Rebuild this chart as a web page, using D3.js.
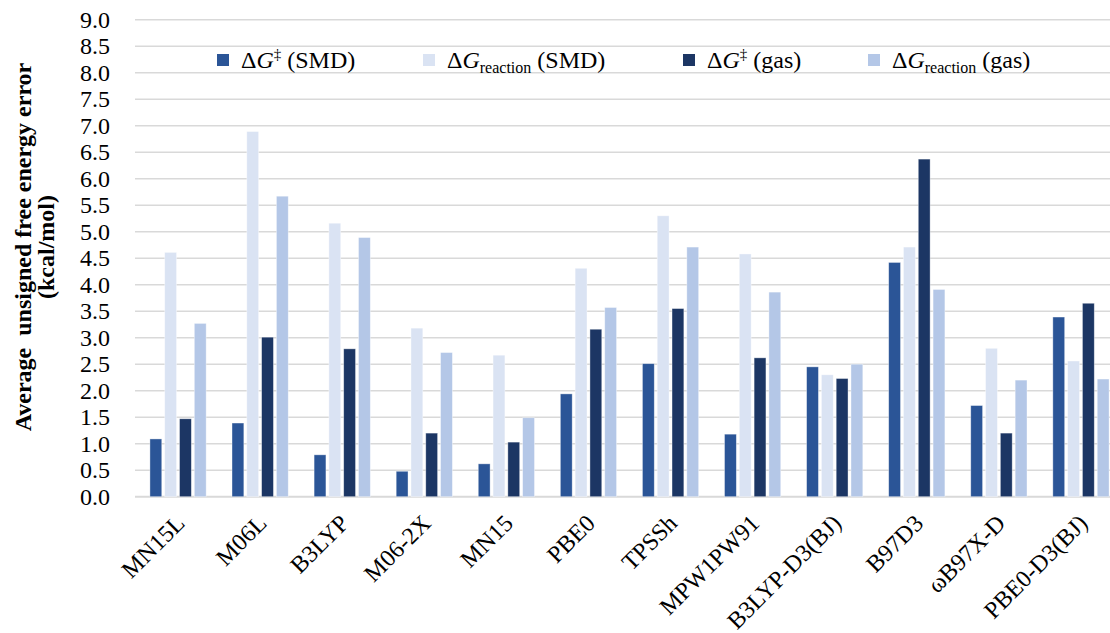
<!DOCTYPE html>
<html>
<head>
<meta charset="utf-8">
<script src="https://cdn.jsdelivr.net/npm/d3@7"></script>
<style>
  html, body { margin: 0; padding: 0; background: #fff; }
  svg { display: block; }
  svg text { font-family: "Liberation Serif", "Times New Roman", Tinos, "DejaVu Serif", serif !important; fill: #000; }
</style>
</head>
<body>
<svg id="chart" width="1110" height="633"></svg>
<script>
// ---- data ----
const categories = ["MN15L", "M06L", "B3LYP", "M06-2X", "MN15", "PBE0", "TPSSh", "MPW1PW91", "B3LYP-D3(BJ)", "B97D3", "ωB97X-D", "PBE0-D3(BJ)"];
const seriesKeys = ["tsSMD", "rxnSMD", "tsGas", "rxnGas"];
const tsSMD  = [1.09, 1.39, 0.79, 0.48, 0.62, 1.94, 2.51, 1.18, 2.45, 4.42, 1.72, 3.39];
const rxnSMD = [4.61, 6.89, 5.16, 3.18, 2.67, 4.31, 5.30, 4.58, 2.30, 4.71, 2.80, 2.56];
const tsGas  = [1.47, 3.01, 2.79, 1.20, 1.03, 3.16, 3.55, 2.62, 2.23, 6.37, 1.20, 3.65];
const rxnGas = [3.27, 5.67, 4.89, 2.72, 1.49, 3.57, 4.71, 3.86, 2.50, 3.91, 2.20, 2.22];
const yTicks = [0, 0.5, 1, 1.5, 2, 2.5, 3, 3.5, 4, 4.5, 5, 5.5, 6, 6.5, 7, 7.5, 8, 8.5, 9];
const yTitleLines = ["Average  unsigned free energy error", "(kcal/mol)"];
const legendLabels = [
  { main: "ΔG", sup: "‡", sub: "", tail: " (SMD)" },
  { main: "ΔG", sup: "", sub: "reaction", tail: " (SMD)" },
  { main: "ΔG", sup: "‡", sub: "", tail: " (gas)" },
  { main: "ΔG", sup: "", sub: "reaction", tail: " (gas)" }
];

// ---- styles ----
const colors = { tsSMD: "#2B5597", rxnSMD: "#DAE3F3", tsGas: "#1C3664", rxnGas: "#B4C7E7" };
const seriesData = { tsSMD, rxnSMD, tsGas, rxnGas };
const FONT = '"Liberation Serif", "Times New Roman", Tinos, "DejaVu Serif", serif';

const svg = d3.select("#chart");
const plotLeft = 137, plotRight = 1122, plotTop = 19.7, plotBottom = 496.7;

const x0 = d3.scaleBand().domain(categories).range([plotLeft, plotRight])
  .paddingInner(0.315).paddingOuter(0.1575);
const x1 = d3.scaleBand().domain(seriesKeys).range([0, x0.bandwidth()])
  .paddingInner(0.2).paddingOuter(0);
const y = d3.scaleLinear().domain([0, 9]).range([plotBottom, plotTop]);

// gridlines
svg.append("g").selectAll("line").data(yTicks).join("line")
  .attr("x1", 135).attr("x2", 1110)
  .attr("y1", d => y(d)).attr("y2", d => y(d))
  .attr("stroke", "#D9D9D9").attr("stroke-width", d => d === 0 ? 2 : 1.5);

// y axis labels
const yAxis = d3.axisLeft(y).tickValues(yTicks).tickFormat(d3.format(".1f")).tickSize(0).tickPadding(24);
const gy = svg.append("g").attr("transform", `translate(134,0)`).call(yAxis);
gy.attr("font-family", FONT);
gy.select(".domain").remove();
gy.selectAll("text").attr("font-size", 24).attr("fill", "#000");

// bars
const groups = svg.append("g").selectAll("g").data(categories).join("g")
  .attr("transform", d => `translate(${x0(d)},0)`);
groups.selectAll("rect")
  .data((c, i) => seriesKeys.map(k => ({ key: k, value: seriesData[k][i] })))
  .join("rect")
  .attr("x", d => x1(d.key))
  .attr("width", x1.bandwidth())
  .attr("y", d => y(d.value))
  .attr("height", d => y(0) - y(d.value))
  .attr("fill", d => colors[d.key])
  .attr("stroke", "#ffffff").attr("stroke-opacity", 0.5).attr("stroke-width", 0.75);

// x axis labels
const xAxis = d3.axisBottom(x0).tickSize(0).tickPadding(0);
const gx = svg.append("g").attr("transform", `translate(0,${plotBottom})`).call(xAxis);
gx.attr("font-family", FONT);
gx.select(".domain").remove();
gx.selectAll("text")
  .attr("font-size", 24).attr("fill", "#000")
  .attr("text-anchor", "end")
  .attr("dy", null)
  .attr("y", null)
  .attr("transform", "translate(8,28) rotate(-45)");

// y title
const title = svg.append("g").attr("transform", "translate(0,247)");
yTitleLines.forEach((t, i) => {
  title.append("text")
    .attr("transform", `translate(${31 + i * 23},0) rotate(-90)`)
    .attr("text-anchor", "middle")
    .attr("font-size", 24).attr("font-weight", "bold")
    .style("white-space", "pre")
    .text(t);
});

// legend
svg.append("rect").attr("x", 205).attr("y", 47.5).attr("width", 850).attr("height", 24).attr("fill", "#fff");
const legendX = [217, 423, 683, 868];
const legend = svg.append("g");
seriesKeys.forEach((k, i) => {
  const lx = legendX[i];
  legend.append("rect").attr("x", lx).attr("y", 54).attr("width", 12).attr("height", 12).attr("fill", colors[k]);
  const lab = legendLabels[i];
  const txt = legend.append("text").attr("x", lx + 24).attr("y", 68).attr("font-size", 24).style("white-space", "pre");
  txt.append("tspan").text("Δ");
  txt.append("tspan").attr("font-style", "italic").text("G");
  if (lab.sup) txt.append("tspan").attr("font-size", 15).attr("dy", -9).text(lab.sup);
  if (lab.sub) txt.append("tspan").attr("font-size", 16).attr("dy", 5).text(lab.sub);
  txt.append("tspan").attr("dy", lab.sup ? 9 : -5).text(lab.tail);
});
</script>
</body>
</html>
